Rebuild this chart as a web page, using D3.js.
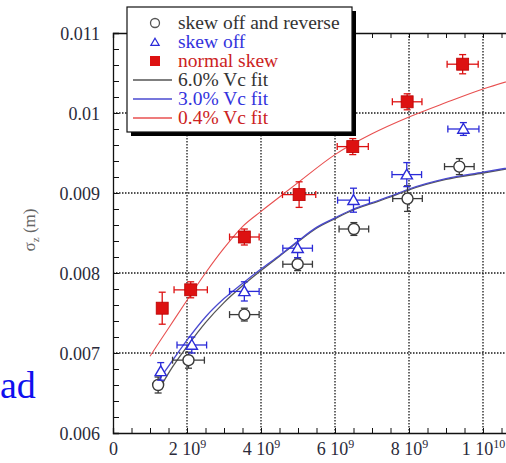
<!DOCTYPE html>
<html>
<head>
<meta charset="utf-8">
<script src="https://cdn.jsdelivr.net/npm/d3@7"></script>
<style>
  html, body { margin: 0; padding: 0; background: #fff; }
  svg { display: block; }
  text { font-family: "Liberation Serif", "Times New Roman", serif; }
</style>
</head>
<body>
<svg id="chart" width="506" height="463"></svg>
<script>
// ---------- data ----------
const xTickValues = [0, 2e9, 4e9, 6e9, 8e9, 1e10];
const xTickLabels = ["0", "2 10^9", "4 10^9", "6 10^9", "8 10^9", "1 10^10"];
const yTickValues = [0.006, 0.007, 0.008, 0.009, 0.010, 0.011];
const yTickLabels = ["0.006", "0.007", "0.008", "0.009", "0.01", "0.011"];

// skew off and reverse (circles)
const revX    = [1.22e9, 2.04e9, 3.55e9, 4.99e9, 6.51e9, 7.96e9, 9.36e9];
const revY    = [0.00660, 0.00691, 0.00748, 0.00811, 0.00855, 0.00893, 0.00933];
const revXErr = [0, 0.43e9, 0.40e9, 0.40e9, 0.40e9, 0.40e9, 0.40e9];
const revYErr = [0.00010, 0.00010, 0.00008, 0.00008, 0.00008, 0.00016, 0.00010];

// skew off (triangles)
const offX    = [1.29e9, 2.13e9, 3.55e9, 4.99e9, 6.50e9, 7.94e9, 9.47e9];
const offY    = [0.00677, 0.00710, 0.00777, 0.00831, 0.00891, 0.00923, 0.00980];
const offXErr = [0, 0.40e9, 0.40e9, 0.40e9, 0.43e9, 0.40e9, 0.42e9];
const offYErr = [0.00011, 0.00010, 0.00012, 0.00012, 0.00015, 0.00015, 0.00008];

// normal skew (squares)
const normX    = [1.33e9, 2.10e9, 3.55e9, 5.03e9, 6.48e9, 7.95e9, 9.45e9];
const normY    = [0.00756, 0.00779, 0.00845, 0.00898, 0.00958, 0.01014, 0.01061];
const normXErr = [0, 0.45e9, 0.40e9, 0.45e9, 0.42e9, 0.40e9, 0.42e9];
const normYErr = [0.00020, 0.00010, 0.00010, 0.00016, 0.00010, 0.00010, 0.00012];

// fits
const fit6X = [1.25e9, 1.6e9, 2.0e9, 2.5e9, 3.0e9, 3.5e9, 4.0e9, 4.5e9, 5.0e9, 5.5e9, 6.0e9, 6.5e9, 7.0e9, 7.5e9, 8.0e9, 9.0e9, 1.0e10, 1.1e10];
const fit6Y = [0.00655, 0.00682, 0.00708, 0.00738, 0.00763, 0.00784, 0.00803, 0.00821, 0.00839, 0.00856, 0.00868, 0.00879, 0.00887, 0.00895, 0.00904, 0.00917, 0.00925, 0.00933];
const fit3X = [1.2e9, 1.6e9, 2.0e9, 2.5e9, 3.0e9, 3.5e9, 4.0e9, 4.5e9, 5.0e9, 5.5e9, 6.0e9, 6.5e9, 7.0e9, 7.5e9, 8.0e9, 9.0e9, 1.0e10, 1.1e10];
const fit3Y = [0.00664, 0.00690, 0.00716, 0.00745, 0.00768, 0.00787, 0.00805, 0.00822, 0.00840, 0.00857, 0.00869, 0.00880, 0.00888, 0.00896, 0.00905, 0.00918, 0.00926, 0.00934];
const fit04X = [1.0e9, 1.5e9, 2.0e9, 2.5e9, 3.0e9, 3.5e9, 4.0e9, 4.5e9, 5.0e9, 6.0e9, 7.0e9, 8.0e9, 9.0e9, 1.0e10, 1.1e10];
const fit04Y = [0.00696, 0.00731, 0.00766, 0.00800, 0.00831, 0.00858, 0.00877, 0.00895, 0.00913, 0.00948, 0.00974, 0.00995, 0.01013, 0.01030, 0.01044];

const legendLabels = ["skew off and reverse", "skew off", "normal skew", "6.0% Vc fit", "3.0% Vc fit", "0.4% Vc fit"];

// ---------- styles ----------
const C_BLACK = "#3a3a3a", C_BLUE = "#2a2ad8", C_RED = "#dd1111";
const C_LINE_BLACK = "#555555", C_LINE_BLUE = "#4a4ad0", C_LINE_RED = "#e85050";

// ---------- layout ----------
const svg = d3.select("#chart");
const pL = 113, pT = 33, plotH = 400;
const x = d3.scaleLinear().domain([0, 1.1e10]).range([pL, pL + 407]);
const y = d3.scaleLinear().domain([0.006, 0.011]).range([pT + plotH, pT]);
const pR = x(1.1e10), pB = y(0.006);

const plot = svg.append("g");

// grid
const grid = plot.append("g").attr("stroke", "#1a1a1a").attr("stroke-width", 1.3).attr("stroke-dasharray", "1.5,1.5");
grid.selectAll("line.vx").data(xTickValues.slice(1)).join("line")
  .attr("x1", d => x(d)).attr("x2", d => x(d)).attr("y1", y(0.011)).attr("y2", y(0.006));
grid.selectAll("line.hy").data(yTickValues.slice(1, -1)).join("line")
  .attr("y1", d => y(d)).attr("y2", d => y(d)).attr("x1", x(0)).attr("x2", pR);

// minor ticks
const xMinor = d3.range(0, 1.1e10 + 1, 0.5e9);
const yMinor = d3.range(0, 26).map(i => 0.006 + i * 0.0002);
const bAxis = d3.axisBottom(x).tickValues(xMinor).tickSize(-5).tickFormat("");
const tAxis = d3.axisTop(x).tickValues(xMinor).tickSize(-5).tickFormat("");
const lAxis = d3.axisLeft(y).tickValues(yMinor).tickSize(-6).tickFormat("");
const rAxis = d3.axisRight(y).tickValues(yMinor).tickSize(-6).tickFormat("");
[ [bAxis, `translate(0,${pB})`], [tAxis, `translate(0,${pT})`],
  [lAxis, `translate(${pL},0)`], [rAxis, `translate(${pR},0)`] ].forEach(([ax, tr]) => {
  const g = plot.append("g").attr("transform", tr).call(ax);
  g.select(".domain").attr("stroke", "#111").attr("stroke-width", 1.3);
  g.selectAll(".tick line").attr("stroke", "#111").attr("stroke-width", 1);
});

// major tick labels
const xLab = plot.append("g").attr("transform", `translate(0,${pB})`)
  .call(d3.axisBottom(x).tickValues(xTickValues).tickSize(0).tickPadding(0).tickFormat((d, i) => xTickLabels[i]));
xLab.select(".domain").remove();
xLab.selectAll(".tick text").each(function(d, i) {
  const t = d3.select(this);
  const parts = xTickLabels[i].split("^");
  t.text(null).attr("font-size", 18).attr("fill", "#2b2b3a").attr("y", 22).attr("dy", null);
  t.append("tspan").text(parts[0]);
  if (parts[1]) t.append("tspan").attr("font-size", 12).attr("dy", -7).text(parts[1]);
});
const yLab = plot.append("g").attr("transform", `translate(${pL},0)`)
  .call(d3.axisLeft(y).tickValues(yTickValues).tickSize(0).tickPadding(13).tickFormat((d, i) => yTickLabels[i]));
yLab.select(".domain").remove();
yLab.selectAll(".tick text").attr("font-size", 18).attr("fill", "#2b2b3a").attr("dy", "0.35em");

// fit curves
const lineGen = d3.line().x(d => x(d[0])).y(d => y(d[1])).curve(d3.curveMonotoneX);
svg.append("clipPath").attr("id", "pclip").append("rect")
  .attr("x", pL).attr("y", pT).attr("width", pR - pL).attr("height", pB - pT);
const curves = plot.append("g").attr("clip-path", "url(#pclip)").attr("fill", "none");
curves.append("path").datum(d3.zip(fit6X, fit6Y)).attr("d", lineGen).attr("stroke", C_LINE_BLACK).attr("stroke-width", 1.3);
curves.append("path").datum(d3.zip(fit3X, fit3Y)).attr("d", lineGen).attr("stroke", C_LINE_BLUE).attr("stroke-width", 1.3);
curves.append("path").datum(d3.zip(fit04X, fit04Y)).attr("d", lineGen).attr("stroke", C_LINE_RED).attr("stroke-width", 1.1);

// error bars + markers
function drawMarker(g, kind, cx, cy, color) {
  if (kind === "circle") {
    g.append("circle").attr("cx", cx).attr("cy", cy).attr("r", 5.5)
      .attr("fill", "#fff").attr("stroke", color).attr("stroke-width", 1.4);
  } else if (kind === "triangle") {
    g.append("path").attr("d", d3.symbol(d3.symbolTriangle, 55)())
      .attr("transform", `translate(${cx},${cy + 1})`)
      .attr("fill", "#fff").attr("stroke", color).attr("stroke-width", 1.4);
  } else {
    g.append("rect").attr("x", cx - 6).attr("y", cy - 6).attr("width", 12).attr("height", 12)
      .attr("fill", color).attr("stroke", "#bb0000").attr("stroke-width", 0.8);
  }
}
function series(xs, ys, xe, ye, color, kind) {
  const data = xs.map((v, i) => ({ x: v, y: ys[i], xe: xe[i], ye: ye[i] }));
  const g = plot.append("g").attr("stroke", color).attr("stroke-width", 1.3);
  const cap = 3.5;
  data.forEach(d => {
    if (d.xe > 0) {
      g.append("line").attr("x1", x(d.x - d.xe)).attr("x2", x(d.x + d.xe)).attr("y1", y(d.y)).attr("y2", y(d.y));
      g.append("line").attr("x1", x(d.x - d.xe)).attr("x2", x(d.x - d.xe)).attr("y1", y(d.y) - cap).attr("y2", y(d.y) + cap);
      g.append("line").attr("x1", x(d.x + d.xe)).attr("x2", x(d.x + d.xe)).attr("y1", y(d.y) - cap).attr("y2", y(d.y) + cap);
    }
    if (d.ye > 0) {
      g.append("line").attr("x1", x(d.x)).attr("x2", x(d.x)).attr("y1", y(d.y - d.ye)).attr("y2", y(d.y + d.ye));
      g.append("line").attr("x1", x(d.x) - cap).attr("x2", x(d.x) + cap).attr("y1", y(d.y - d.ye)).attr("y2", y(d.y - d.ye));
      g.append("line").attr("x1", x(d.x) - cap).attr("x2", x(d.x) + cap).attr("y1", y(d.y + d.ye)).attr("y2", y(d.y + d.ye));
    }
  });
  const m = plot.append("g");
  data.forEach(d => drawMarker(m, kind, x(d.x), y(d.y), color));
}
series(revX, revY, revXErr, revYErr, C_BLACK, "circle");
series(offX, offY, offXErr, offYErr, C_BLUE, "triangle");
series(normX, normY, normXErr, normYErr, C_RED, "square");

// legend
const lg = svg.append("g");
lg.append("rect").attr("x", 131).attr("y", 11).attr("width", 225).attr("height", 125).attr("fill", "#000");
lg.append("rect").attr("x", 127).attr("y", 7).attr("width", 225).attr("height", 125)
  .attr("fill", "#fff").attr("stroke", "#111").attr("stroke-width", 1.2);
const legColors = ["#333", "#3333dd", "#cc2222", "#333", "#3333dd", "#cc2222"];
const legLineColors = [null, null, null, C_LINE_BLACK, C_LINE_BLUE, C_LINE_RED];
const rowY = [23, 42, 61, 80, 99, 118];
legendLabels.forEach((lab, i) => {
  const cy = rowY[i];
  if (i === 0) lg.append("circle").attr("cx", 155).attr("cy", cy).attr("r", 4.5).attr("fill", "#fff").attr("stroke", "#555").attr("stroke-width", 1.3);
  if (i === 1) lg.append("path").attr("d", d3.symbol(d3.symbolTriangle, 30)()).attr("transform", `translate(155,${cy + 1})`)
    .attr("fill", "#fff").attr("stroke", C_BLUE).attr("stroke-width", 1.2);
  if (i === 2) lg.append("rect").attr("x", 150).attr("y", cy - 5).attr("width", 10).attr("height", 10).attr("fill", C_RED);
  if (i >= 3) lg.append("line").attr("x1", 133).attr("x2", 172).attr("y1", cy).attr("y2", cy)
    .attr("stroke", legLineColors[i]).attr("stroke-width", 1.3);
  lg.append("text").attr("x", 178).attr("y", cy + 6).attr("font-size", 19.5).attr("fill", legColors[i]).text(lab);
});

// y axis title
const yt = svg.append("text").attr("transform", "translate(35,230) rotate(-90)")
  .attr("text-anchor", "middle").attr("font-size", 17).attr("fill", "#666");
yt.append("tspan").text("σ");
yt.append("tspan").attr("font-size", 11).attr("dy", 4).text("z");
yt.append("tspan").attr("dy", -4).text(" (m)");

// stray text at left
svg.append("text").attr("x", 0).attr("y", 398).attr("font-size", 38).attr("fill", "#1010ee").text("ad");
</script>
</body>
</html>
